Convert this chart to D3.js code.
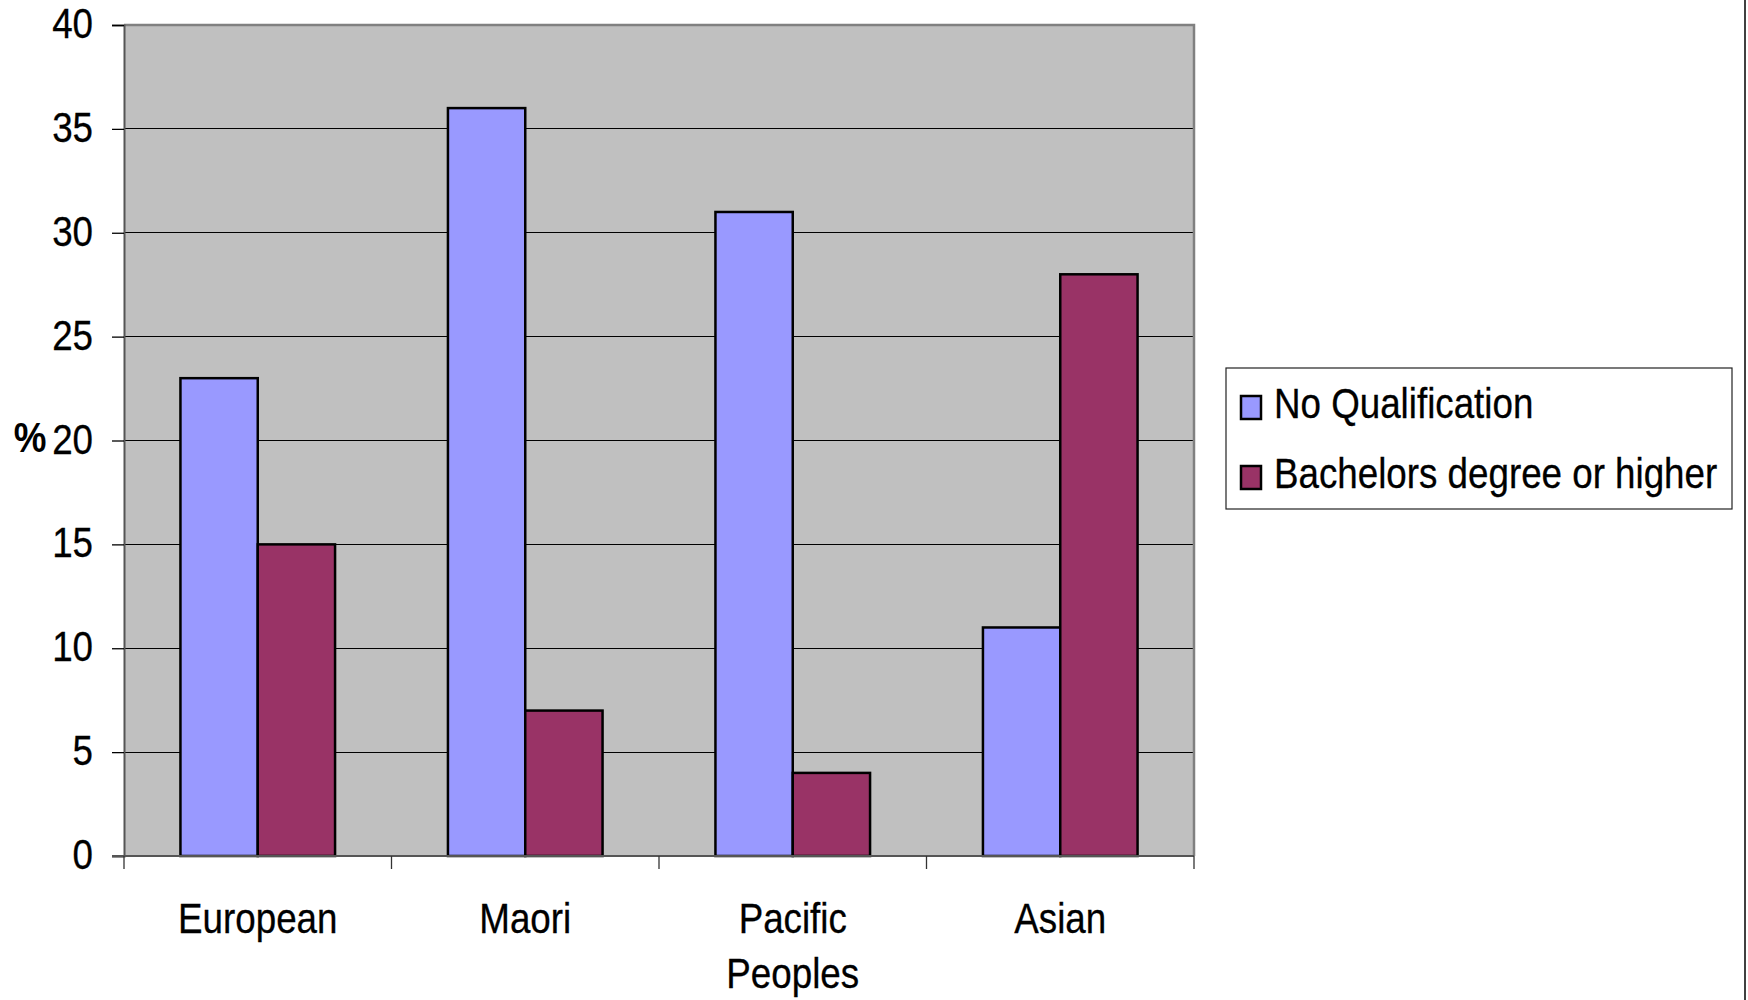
<!DOCTYPE html>
<html><head><meta charset="utf-8">
<script src="https://cdn.jsdelivr.net/npm/d3@7"></script>
<style>html,body{margin:0;padding:0;background:#fff;} svg{display:block;}</style>
</head><body>
<svg id="c" width="1748" height="1000"></svg>
<script>
const categories = ["European", "Maori", "Pacific Peoples", "Asian"];
const categoryLines = [["European"], ["Maori"], ["Pacific", "Peoples"], ["Asian"]];
const seriesNames = ["No Qualification", "Bachelors degree or higher"];
const noQualification = [23, 36, 31, 11];
const bachelors = [15, 7, 4, 28];
const yTicks = [0, 5, 10, 15, 20, 25, 30, 35, 40];
const colors = ["#9999FF", "#993366"];

const values = [noQualification, bachelors];
const font = "'Liberation Sans', Arial, sans-serif";
const FS = 42, SX = 0.875;
const svg = d3.select("#c");
const L = 124, R = 1194, T = 25, B = 856;

const y = d3.scaleLinear().domain([0, 40]).range([B, T]);
const x = d3.scaleBand().domain(categories).range([L, R]).padding(0);
const xs = d3.scaleBand().domain(seriesNames).range([0, x.bandwidth()]).paddingInner(0).paddingOuter(0.73);

// plot background
svg.append("rect").attr("x", L).attr("y", T).attr("width", R - L).attr("height", B - T).attr("fill", "#C0C0C0");

// gridlines
svg.append("g").selectAll("line").data(yTicks.filter(d => d > 0 && d < 40)).join("line")
  .attr("x1", L).attr("x2", R).attr("y1", d => y(d)).attr("y2", d => y(d))
  .attr("stroke", "#000").attr("stroke-width", 1.2).attr("shape-rendering", "crispEdges");

// plot frame top/right
svg.append("path").attr("d", `M${L},${T}H${R}V${B}`).attr("fill", "none").attr("stroke", "#808080").attr("stroke-width", 2.5);

// bars
const g = svg.append("g");
categories.forEach((c, i) => {
  seriesNames.forEach((s, j) => {
    g.append("rect")
      .attr("x", x(c) + xs(s)).attr("width", xs.bandwidth())
      .attr("y", y(values[j][i])).attr("height", y(0) - y(values[j][i]))
      .attr("fill", colors[j]).attr("stroke", "#000").attr("stroke-width", 2.5);
  });
});

// axes
const yAxis = d3.axisLeft(y).tickValues(yTicks).tickSize(12).tickFormat(d3.format("d"));
const ya = svg.append("g").attr("transform", `translate(${L},0)`).call(yAxis);
ya.select(".domain").attr("stroke", "#555").attr("stroke-width", 2);
ya.selectAll(".tick line").attr("stroke", "#000").attr("stroke-width", 1.3);
ya.selectAll(".tick text").remove();
svg.append("g").selectAll("text").data(yTicks).join("text")
  .attr("transform", d => `translate(${L - 31},${y(d) + 13}) scale(${SX},1)`)
  .attr("text-anchor", "end").attr("font-family", font).attr("font-size", FS).attr("fill", "#000")
  .attr("stroke", "#000").attr("stroke-width", 0.3)
  .text(d => d);

const xBoundaries = categories.map(c => x(c)).concat([R]);
svg.append("line").attr("x1", L - 12).attr("x2", R).attr("y1", B).attr("y2", B).attr("stroke", "#555").attr("stroke-width", 2);
svg.append("g").selectAll("line").data(xBoundaries).join("line")
  .attr("x1", d => d).attr("x2", d => d).attr("y1", B).attr("y2", B + 13)
  .attr("stroke", "#333").attr("stroke-width", 1.3);

categories.forEach((c, i) => {
  categoryLines[i].forEach((ln, k) => {
    svg.append("text")
      .attr("transform", `translate(${x(c) + x.bandwidth() / 2},${933 + k * 55}) scale(${SX},1)`)
      .attr("text-anchor", "middle").attr("font-family", font).attr("font-size", FS).attr("fill", "#000")
      .attr("stroke", "#000").attr("stroke-width", 0.3)
      .text(ln);
  });
});

// y title
svg.append("text").attr("transform", `translate(30,452) scale(${SX},1)`)
  .attr("text-anchor", "middle").attr("font-family", font).attr("font-weight", "bold")
  .attr("font-size", FS).attr("fill", "#000").text("%");

// legend
const lg = svg.append("g");
lg.append("rect").attr("x", 1226).attr("y", 368).attr("width", 506).attr("height", 141)
  .attr("fill", "#fff").attr("stroke", "#222").attr("stroke-width", 1.2);
seriesNames.forEach((s, j) => {
  lg.append("rect").attr("x", 1241).attr("y", 396 + j * 70).attr("width", 20).attr("height", 23)
    .attr("fill", colors[j]).attr("stroke", "#000").attr("stroke-width", 2.5);
  lg.append("text").attr("transform", `translate(1274,${418 + j * 70}) scale(${SX},1)`)
    .attr("font-family", font).attr("font-size", FS).attr("fill", "#000")
    .attr("stroke", "#000").attr("stroke-width", 0.3).text(s);
});

// outer right border
svg.append("line").attr("x1", 1745).attr("x2", 1745).attr("y1", 0).attr("y2", 1000).attr("stroke", "#000").attr("stroke-width", 1.5);
</script>
</body></html>
